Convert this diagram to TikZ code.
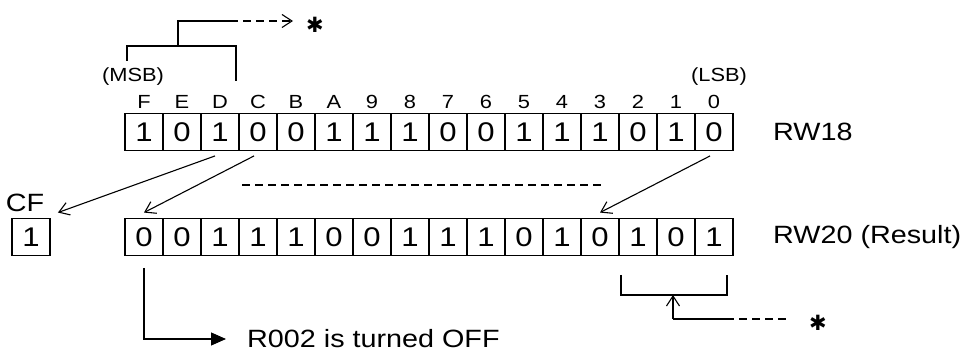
\documentclass[tikz,border=0pt]{standalone}
\usepackage{fontspec}
\setmainfont[FakeStretch=1.15]{Liberation Sans}
\newfontfamily\symfont{DejaVu Sans}
\usetikzlibrary{arrows.meta}

\begin{document}
\begin{tikzpicture}[x=1pt,y=-1pt,
  cell/.style={draw,line width=1.9pt,minimum width=38pt,minimum height=37pt,
    inner sep=0pt,font=\fontsize{27}{27}\selectfont},
  bitlbl/.style={inner sep=0pt,font=\fontsize{19}{19}\selectfont},
  txt/.style={inner sep=0pt,anchor=west,font=\fontsize{25}{25}\selectfont},
  star/.style={inner sep=0pt,font=\symfont\fontsize{21}{21}\selectfont},
  conn/.style={line width=1.1pt},
  barb/.style={conn,-{Straight Barb[length=10pt,width=13pt]}},
  dsh/.style={conn,dash pattern=on 8pt off 5pt}]
  \useasboundingbox (0,0) rectangle (968,352);

  % source and result registers
  \foreach \v [count=\i from 0] in {1,0,1,0,0,1,1,1,0,0,1,1,1,0,1,0}
    \node[cell] (t\i) at ({144+38*\i},132) {\v};
  \foreach \v [count=\i from 0] in {0,0,1,1,1,0,0,1,1,1,0,1,0,1,0,1}
    \node[cell] (b\i) at ({144+38*\i},237) {\v};
  \foreach \l [count=\i from 0] in {F,E,D,C,B,A,9,8,7,6,5,4,3,2,1,0}
    \node[bitlbl] (l\i) at ({144+38*\i},102) {\l};

  \node[bitlbl] (msb) at (133,77) {(MSB)};
  \node[bitlbl] (lsb) at (719,77) {(LSB)};
  \node[txt] (rw18) at (773,132) {RW18};
  \node[txt] (rw20) at (773,237) {RW20 (Result)};

  % carry flag
  \node[cell] (cf) at (31,237) {1};
  \node[inner sep=0pt,font=\fontsize{25}{25}\selectfont] (cflbl) at (25,203) {CF};

  % shift arrows
  \draw[barb] ([xshift=-5pt,yshift=-4.5pt]t2.south) -- ([xshift=7pt,yshift=5pt]cf.north east);
  \draw[barb] ([xshift=-4pt,yshift=-4.5pt]t3.south) -- ([yshift=5pt]b0.north);
  \draw[barb] ([xshift=-4pt,yshift=-4.5pt]t15.south) -- ([yshift=5pt]b12.north);
  \draw[dsh] (242,185) -- (604,185);

  % top bracket
  \node[star] (astA) at (315,25) {✱};
  \coordinate (msbL) at (127,61);
  \coordinate (msbR) at (236,81);
  \coordinate (stem) at (178,46);
  \coordinate (turn) at (178,21);
  \coordinate (dashA) at (230,21);
  \draw[conn] (msbL) |- (stem) -| (msbR);
  \draw[conn] (stem) -- (turn) -- (dashA);
  \draw[dsh,-{Straight Barb[length=10pt,width=13pt]}] (dashA) -- (293,21);

  % bottom bracket
  \node[star] (astB) at (818,323) {✱};
  \coordinate (lsbL) at (621,275);
  \coordinate (lsbR) at (727,275);
  \coordinate (lsbM) at (673,295);
  \coordinate (lsbT) at (673,319);
  \coordinate (lsbD) at (726,319);
  \draw[conn] (lsbL) |- (lsbM) -| (lsbR);
  \draw[barb] (lsbT) -- (lsbM);
  \draw[conn] (lsbT) -- (lsbD);
  \draw[dsh] (lsbD) -- (788,319);

  % relay output
  \node[txt] (offtxt) at (247,339) {R002 is turned OFF};
  \draw[conn,-{Triangle[length=15pt,width=13pt]}] ([yshift=-11.5pt]b0.south) |- ([xshift=-21pt]offtxt.west);
\end{tikzpicture}
\end{document}
